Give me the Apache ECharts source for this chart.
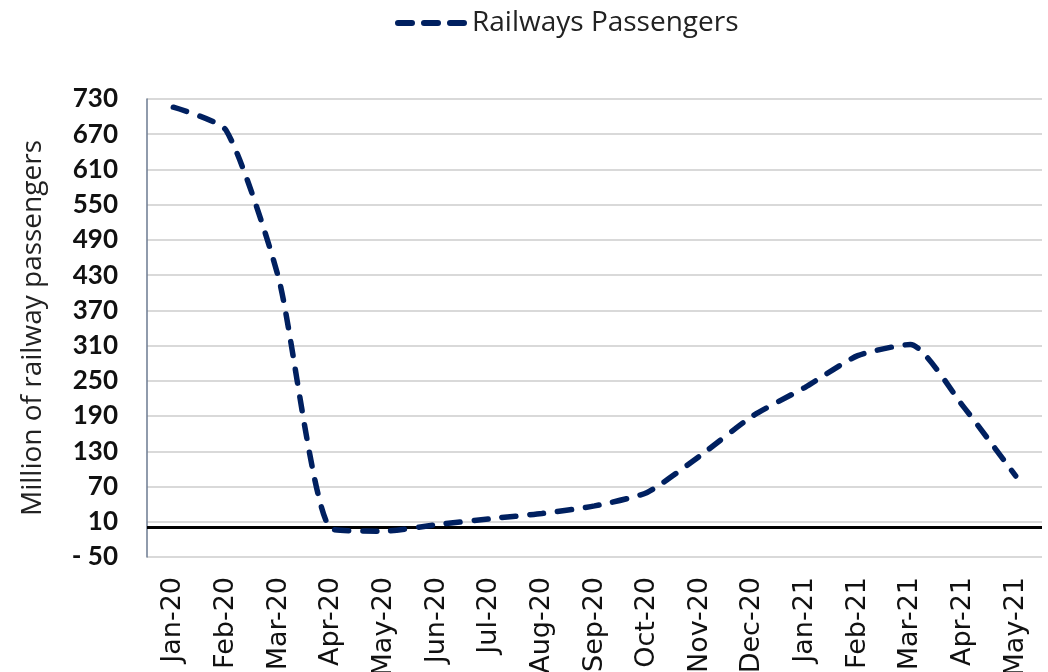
<!DOCTYPE html>
<html>
<head>
<meta charset="utf-8">
<script src="https://cdn.jsdelivr.net/npm/echarts@6/dist/echarts.min.js"></script>
<style>html,body{margin:0;padding:0;background:#fff}#c{width:1048px;height:672px}</style>
</head>
<body>
<div id="c"></div>
<script>
var categories = ['Jan-20','Feb-20','Mar-20','Apr-20','May-20','Jun-20','Jul-20','Aug-20','Sep-20','Oct-20','Nov-20','Dec-20','Jan-21','Feb-21','Mar-21','Apr-21','May-21'];
var passengers = [716, 677, 425, -2, -6, 5, 15, 24, 37, 60, 122, 190, 239, 293, 312, 207, 88];
var yTicks = [-50, 10, 70, 130, 190, 250, 310, 370, 430, 490, 550, 610, 670, 730];
var seriesName = 'Railways Passengers';
var yAxisTitle = 'Million of railway passengers';

var yMin = yTicks[0], yMax = yTicks[yTicks.length - 1], yStep = yTicks[1] - yTicks[0];
var chart = echarts.init(document.getElementById('c'));
chart.setOption({
  animation: false,
  backgroundColor: '#fff',
  legend: {
    top: 4, left: 390,
    icon: 'path://M3,0 h14 a3,3 0 0 1 0,6 h-14 a3,3 0 0 1 0,-6 z M29,0 h14 a3,3 0 0 1 0,6 h-14 a3,3 0 0 1 0,-6 z M55,0 h14 a3,3 0 0 1 0,6 h-14 a3,3 0 0 1 0,-6 z',
    itemWidth: 72, itemHeight: 6, itemGap: 6,
    textStyle: { fontFamily: 'Open Sans', fontSize: 28, color: '#222', padding: [0, 0, 0, 0] },
    data: [seriesName]
  },
  grid: { left: 147, right: 6, top: 99, bottom: 115, containLabel: false, outerBoundsMode: 'none' },
  xAxis: {
    type: 'category', data: categories, boundaryGap: true,
    axisLine: { show: false }, axisTick: { show: false },
    axisLabel: { rotate: 90, fontFamily: 'DejaVu Sans', fontSize: 27, color: '#111', margin: 20, interval: 0 }
  },
  yAxis: [
    { type: 'value', min: yMin, max: yMax, show: false, splitLine: { show: false } },
    {
      type: 'value', min: 0, max: yMax - yMin, interval: yStep, position: 'left',
      name: yAxisTitle, nameLocation: 'middle', nameGap: 100, nameRotate: 90,
      nameTextStyle: { fontFamily: 'Open Sans', fontSize: 28, color: '#222' },
      axisLine: { show: true, lineStyle: { color: '#6b7a90', width: 1.5 } },
      axisTick: { show: false },
      axisLabel: {
        fontFamily: 'Lato', fontWeight: 'bold', fontSize: 26, color: '#111', margin: 29,
        formatter: function (v, i) { var t = yTicks[i]; return t < 0 ? '- ' + Math.abs(t) : String(t); }
      },
      splitLine: { show: true, lineStyle: { color: '#d9d9d9', width: 2 } }
    }
  ],
  series: [{
    name: seriesName, type: 'line', yAxisIndex: 0, data: passengers,
    smooth: 0.2, showSymbol: false, symbol: 'none',
    lineStyle: { color: '#002060', width: 5.5, type: [14, 14], cap: 'round' },
    itemStyle: { color: '#002060' },
    z: 5,
    markLine: {
      silent: true, symbol: 'none', label: { show: false },
      lineStyle: { color: '#000', width: 3, type: 'solid' },
      data: [{ yAxis: 0 }], z: 3
    }
  }]
});
</script>
</body>
</html>
